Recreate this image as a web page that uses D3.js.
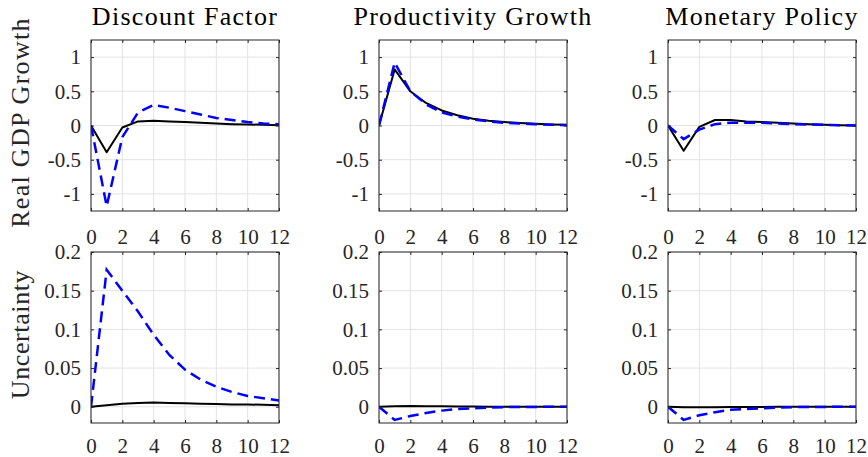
<!DOCTYPE html>
<html>
<head>
<meta charset="utf-8">
<script src="https://cdn.jsdelivr.net/npm/d3@7"></script>
<style>
  body { margin: 0; background: #fff; }
  svg { display: block; }
</style>
</head>
<body>
<div id="chart"></div>
<script>
// horizons and labels
const horizons = [0, 1, 2, 3, 4, 5, 6, 7, 8, 9, 10, 11, 12];
const shockTitles = ['Discount Factor', 'Productivity Growth', 'Monetary Policy'];
const rowLabels = ['Real GDP Growth', 'Uncertainty'];
const xTicks = [0, 2, 4, 6, 8, 10, 12];
const gdpTicks = [-1, -0.5, 0, 0.5, 1];
const uncTicks = [0, 0.05, 0.1, 0.15, 0.2];

// real GDP growth responses (solid = black, dashed = blue)
const gdpDiscountSolid = [0, -0.39, -0.03, 0.06, 0.07, 0.06, 0.05, 0.04, 0.03, 0.02, 0.015, 0.01, 0.005];
const gdpDiscountDashed = [0, -1.18, -0.17, 0.19, 0.30, 0.26, 0.21, 0.16, 0.11, 0.08, 0.05, 0.03, 0.02];
const gdpProdSolid = [0, 0.82, 0.50, 0.33, 0.22, 0.15, 0.10, 0.07, 0.05, 0.035, 0.025, 0.015, 0.01];
const gdpProdDashed = [0, 0.92, 0.50, 0.31, 0.19, 0.13, 0.09, 0.06, 0.04, 0.03, 0.02, 0.01, 0.005];
const gdpMonSolid = [0, -0.37, -0.02, 0.08, 0.08, 0.06, 0.05, 0.04, 0.03, 0.02, 0.01, 0.005, 0];
const gdpMonDashed = [0, -0.20, -0.06, 0.02, 0.04, 0.04, 0.04, 0.03, 0.02, 0.015, 0.01, 0.005, 0];

// uncertainty responses
const uncDiscountSolid = [0, 0.002, 0.004, 0.005, 0.0055, 0.005, 0.0045, 0.004, 0.0035, 0.003, 0.003, 0.0025, 0.002];
const uncDiscountDashed = [0, 0.177, 0.150, 0.123, 0.093, 0.067, 0.048, 0.035, 0.026, 0.019, 0.014, 0.011, 0.008];
const uncProdSolid = [0, 0.0005, 0.001, 0.0008, 0.0005, 0.0003, 0.0002, 0.0001, 0, 0, 0, 0, 0];
const uncProdDashed = [0, -0.017, -0.012, -0.008, -0.005, -0.003, -0.002, -0.001, -0.0005, -0.0003, -0.0002, -0.0001, 0];
const uncMonSolid = [0, -0.0008, -0.0008, -0.0006, -0.0004, -0.0003, -0.0002, -0.0001, 0, 0, 0, 0, 0];
const uncMonDashed = [0, -0.017, -0.011, -0.007, -0.004, -0.003, -0.002, -0.001, -0.0005, -0.0003, -0.0002, -0.0001, 0];

const solidSeries = [
  [gdpDiscountSolid, gdpProdSolid, gdpMonSolid],
  [uncDiscountSolid, uncProdSolid, uncMonSolid]
];
const dashedSeries = [
  [gdpDiscountDashed, gdpProdDashed, gdpMonDashed],
  [uncDiscountDashed, uncProdDashed, uncMonDashed]
];

const FONT = '"Liberation Serif", serif';
const W = 868, H = 457;
const colLeft = [91, 379, 668];
const panelW = 188;
const rowTop = [40, 252];
const panelH = 171;
const yDomains = [[-1.25, 1.25], [-0.021, 0.2]];
const yTickSets = [gdpTicks, uncTicks];

const svg = d3.select('#chart')
  .append('svg')
  .attr('width', W)
  .attr('height', H);

const fmt = d => String(d);

rowTop.forEach((top, r) => {
  colLeft.forEach((left, c) => {
    const g = svg.append('g').attr('transform', `translate(${left},${top})`);

    const x = d3.scaleLinear().domain([0, 12]).range([0, panelW]);
    const y = d3.scaleLinear().domain(yDomains[r]).range([panelH, 0]);

    // grid
    g.append('g')
      .selectAll('line')
      .data(xTicks)
      .join('line')
      .attr('x1', d => x(d)).attr('x2', d => x(d))
      .attr('y1', 0).attr('y2', panelH)
      .style('stroke', '#e3e3e3').style('stroke-width', 1);
    g.append('g')
      .selectAll('line')
      .data(yTickSets[r])
      .join('line')
      .attr('x1', 0).attr('x2', panelW)
      .attr('y1', d => y(d)).attr('y2', d => y(d))
      .style('stroke', '#e3e3e3').style('stroke-width', 1);

    // lines
    const clipId = `clip-${r}-${c}`;
    g.append('clipPath').attr('id', clipId)
      .append('rect').attr('width', panelW).attr('height', panelH);

    const line = d3.line()
      .x((d, i) => x(horizons[i]))
      .y(d => y(d));

    g.append('path')
      .datum(solidSeries[r][c])
      .attr('clip-path', `url(#${clipId})`)
      .attr('fill', 'none')
      .attr('stroke', '#000')
      .attr('stroke-width', 2)
      .attr('stroke-linejoin', 'round')
      .attr('d', line);

    g.append('path')
      .datum(dashedSeries[r][c])
      .attr('clip-path', `url(#${clipId})`)
      .attr('fill', 'none')
      .attr('stroke', '#0000ff')
      .attr('stroke-width', 2.5)
      .attr('stroke-dasharray', '11,6')
      .attr('d', line);

    // axes, ticks inward on all four sides
    const tickLen = 3;
    const axisStyle = sel => {
      sel.attr('font-family', null).attr('font-size', null);
      sel.select('.domain').remove();
      sel.selectAll('.tick line').style('stroke', '#262626');
      sel.selectAll('.tick text')
        .style('font-size', '21px')
        .style('font-family', FONT)
        .style('fill', '#262626');
    };

    g.append('g')
      .attr('transform', `translate(0,${panelH})`)
      .call(d3.axisBottom(x).tickValues(xTicks).tickSize(-tickLen).tickPadding(r === 1 ? 15 : 18).tickFormat(d3.format('d')))
      .call(axisStyle);
    g.append('g')
      .call(d3.axisTop(x).tickValues(xTicks).tickSize(-tickLen).tickFormat(''))
      .call(axisStyle);
    g.append('g')
      .call(d3.axisLeft(y).tickValues(yTickSets[r]).tickSize(-tickLen).tickPadding(10).tickFormat(fmt))
      .call(axisStyle);
    g.append('g')
      .attr('transform', `translate(${panelW},0)`)
      .call(d3.axisRight(y).tickValues(yTickSets[r]).tickSize(-tickLen).tickFormat(''))
      .call(axisStyle);

    // box
    g.append('rect')
      .attr('width', panelW).attr('height', panelH)
      .attr('fill', 'none')
      .attr('stroke', '#262626')
      .attr('stroke-width', 1);

    if (r === 0) {
      g.append('text')
        .attr('x', panelW / 2)
        .attr('y', -15)
        .attr('text-anchor', 'middle')
        .style('font-family', FONT)
        .style('font-size', '26px')
        .style('letter-spacing', '1.3px')
        .style('fill', '#000')
        .text(shockTitles[c]);
    }
    if (c === 0) {
      g.append('text')
        .attr('transform', `translate(${29 - left},${panelH / 2 - 3}) rotate(-90)`)
        .attr('text-anchor', 'middle')
        .style('font-family', FONT)
        .style('font-size', '26px')
        .style('letter-spacing', r === 0 ? '1.3px' : '0.6px')
        .style('fill', '#262626')
        .text(rowLabels[r]);
    }
  });
});
</script>
</body>
</html>
